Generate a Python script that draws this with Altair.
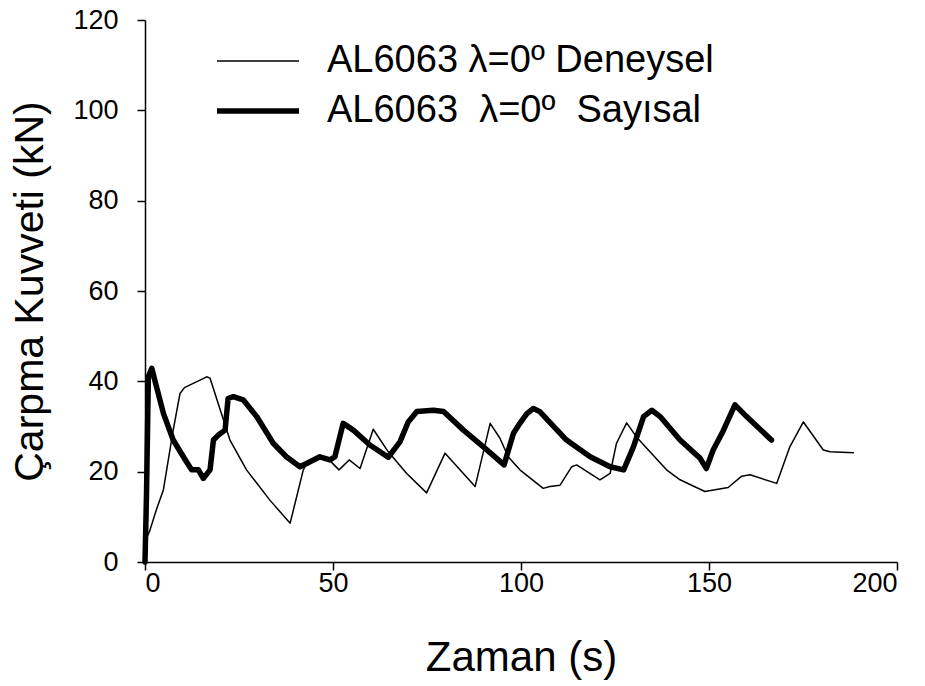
import altair as alt
import pandas as pd

# Experimental (Deneysel) series
exp_t = [0, 1.3, 3.0, 4.9, 7.5, 9.3, 10.5, 12.0, 14.5, 16.4, 17.3, 22.6, 27.0, 33.2, 38.6, 42.1, 43.0,
         46.3, 48.5, 51.6, 54.3, 57.2, 60.7, 64.7, 69.6, 74.9, 79.8, 87.8, 91.8, 94.4, 96.6,
         99.7, 105.9, 107.7, 110.4, 113.5, 114.8, 121.0, 123.7, 125.4, 128.1, 130.7, 138.7,
         142.3, 148.9, 155.1, 158.7, 160.9, 168.0, 171.5, 175.1, 180.4, 182.2, 188.4]
exp_f = [4.5, 7.0, 11.5, 16.0, 29.2, 37.3, 38.6, 39.2, 40.2, 41.0, 40.7, 27.0, 20.4, 13.7, 8.6, 20.4, 21.8,
         22.8, 23.0, 20.4, 22.6, 20.7, 29.4, 24.4, 19.6, 15.3, 24.1, 16.7, 30.7, 27.4, 23.3,
         20.4, 16.3, 16.7, 17.0, 21.1, 21.5, 18.2, 19.6, 26.3, 30.8, 27.7, 20.4,
         18.2, 15.6, 16.5, 19.0, 19.3, 17.4, 25.5, 31.0, 24.8, 24.4, 24.2]

# Numerical (Sayısal) series
num_t = [0, 0.4, 0.9, 1.8, 3.0, 4.9, 7.5, 10.2, 12.4, 14.2, 15.5, 17.3, 18.2, 19.5, 21.3,
         22.1, 23.5, 26.1, 29.7, 34.1, 37.6, 41.2, 43.9, 46.5, 49.2, 50.5, 52.7, 55.4, 59.8,
         64.7, 67.8, 70.0, 72.3, 76.7, 79.4, 84.7, 90.0, 95.5, 98.0, 99.7, 101.5, 103.3, 105.0, 112.1,
         118.4, 123.7, 127.3, 129.9, 132.6, 134.8, 137.0, 142.3, 147.6, 149.3, 151.1, 153.7,
         156.9, 160.0, 166.6]
num_f = [0, 15.0, 41.0, 42.9, 39.0, 32.9, 27.0, 23.3, 20.4, 20.4, 18.5, 20.4, 27.0, 28.1, 29.2,
         36.2, 36.6, 35.9, 32.2, 26.3, 23.3, 21.1, 22.2, 23.3, 22.6, 23.3, 30.7, 29.2, 25.9,
         23.2, 26.6, 31.0, 33.3, 33.6, 33.3, 29.2, 25.5, 21.5, 28.5, 30.7, 32.8, 34.0, 33.3, 27.0,
         23.3, 21.1, 20.4, 25.5, 32.2, 33.6, 32.2, 27.0, 23.0, 20.7, 24.8, 28.9,
         34.8, 32.2, 27.0]

series_names = ["AL6063 λ=0º Deneysel", "AL6063\u00a0 λ=0º\u00a0 Sayısal"]
x_ticks = [0, 50, 100, 150, 200]
y_ticks = [0, 20, 40, 60, 80, 100, 120]

df = pd.concat([
    pd.DataFrame({"t": exp_t, "f": exp_f, "series": series_names[0]}),
    pd.DataFrame({"t": num_t, "f": num_f, "series": series_names[1]}),
], ignore_index=True)

FONT = "Liberation Sans"

chart = alt.Chart(df).mark_line(color="black", strokeJoin="round", strokeCap="round").encode(
    x=alt.X("t:Q", scale=alt.Scale(domain=[0, 200], nice=False),
            axis=alt.Axis(values=x_ticks, title="Zaman (s)", labelPadding=0, titlePadding=41,
                          titleFontSize=42)),
    y=alt.Y("f:Q", scale=alt.Scale(domain=[0, 120], nice=False),
            axis=alt.Axis(values=y_ticks, title="Çarpma Kuvveti (kN)", labelPadding=19, titlePadding=21,
                          titleFontSize=41)),
    strokeWidth=alt.StrokeWidth(
        "series:N",
        scale=alt.Scale(domain=series_names, range=[1.5, 5.5]),
        legend=alt.Legend(
            title=None, orient="none", legendX=94, legendY=22,
            symbolType="M-8.2,0H8.2", symbolSize=100, symbolStrokeColor="black",
            labelFont=FONT, labelFontSize=38, labelColor="black", labelOffset=50,
            rowPadding=12, labelLimit=600,
        ),
    ),
).properties(
    width=752, height=542,
    background="white",
    autosize=alt.AutoSizeParams(type="none"),
    padding={"left": 145, "top": 20, "right": 28, "bottom": 124},
).configure_view(stroke=None).configure_axis(
    grid=False, domainColor="black", domainWidth=1.5, tickColor="black", tickWidth=1.5,
    tickSize=8, labelFont=FONT, labelFontSize=27, labelColor="black",
    titleFont=FONT, titleColor="black", titleFontWeight="normal",
)

chart.save("out.html", embed_options={"renderer": "svg", "actions": False})
